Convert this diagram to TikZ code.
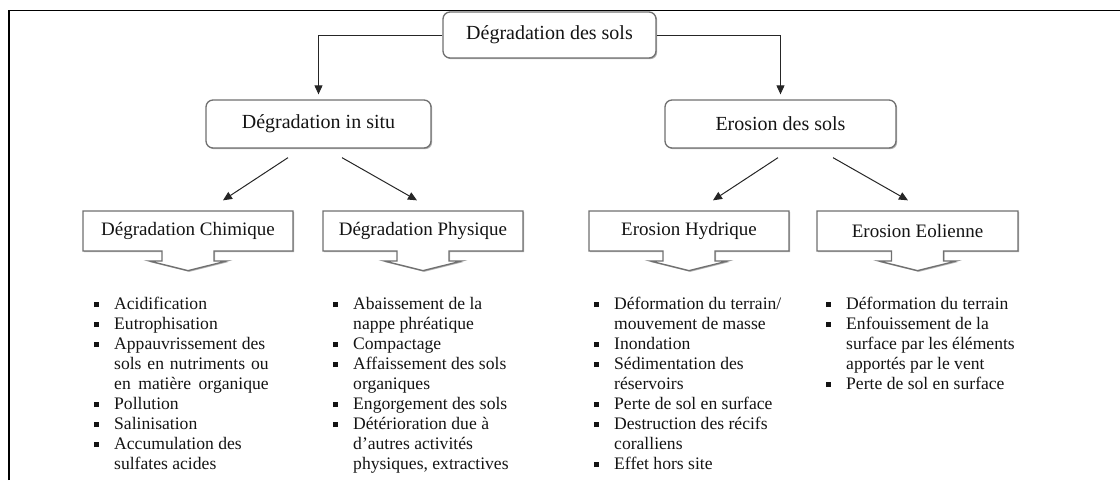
\documentclass[tikz,border=0pt]{standalone}
\usepackage{fontspec}
\setmainfont{Liberation Serif}
\usetikzlibrary{arrows.meta,shapes.arrows,shadows}
\definecolor{Ink}{HTML}{141414}
\definecolor{BoxGray}{HTML}{707070}
\definecolor{ArrowInk}{HTML}{262626}
\newcommand{\puce}{\raisebox{2pt}{\rule{5pt}{5pt}}}
\newenvironment{puces}{\begin{list}{\puce}{\setlength{\leftmargin}{20.5pt}\setlength{\labelwidth}{5pt}\setlength{\labelsep}{15.5pt}\setlength{\itemsep}{0pt}\setlength{\parsep}{0pt}\setlength{\topsep}{0pt}\setlength{\partopsep}{0pt}}}{\end{list}}
\tikzset{
  cadre/.style={draw=black, line width=1.5pt},
  ombre/.style={drop shadow={shadow xshift=1.2pt, shadow yshift=-1.2pt, fill=black, opacity=.3}},
  rootbox/.style={draw=BoxGray, line width=1.3pt, rounded corners=7pt, fill=white, ombre, align=center, inner sep=0pt, font=\fontsize{20}{24}\selectfont, text=Ink},
  leafbox/.style={arrow box, draw=BoxGray, line width=1.3pt, fill=white, ombre, inner sep=0pt, font=\fontsize{19}{23}\selectfont, text=Ink, arrow box arrows={south:19pt}, arrow box shaft width=52pt, arrow box head extend=13pt, arrow box head indent=0pt, arrow box tip angle=152},
  liste/.style={anchor=north west, inner sep=0pt, align=justify, font=\fontsize{17.6}{20}\selectfont, text=Ink},
  fleche/.style={-{Triangle[length=9pt, width=8pt]}, line width=1pt, draw=ArrowInk},
}

\begin{document}
\begin{tikzpicture}[x=1pt, y=-1pt]
    \useasboundingbox (0,0) rectangle (1120,480);
    \draw[cadre] (9,480) -- (9,10.5) -- (1120,10.5);
    \node[rootbox, minimum width=213pt, minimum height=46pt] (sols) at (549.5,35) {Dégradation des sols};
    \node[rootbox, minimum width=225pt, minimum height=48pt] (insitu) at (318.5,124) {Dégradation in situ};
    \node[rootbox, minimum width=231pt, minimum height=48pt] (erosion) at (780.5,124) {Erosion des sols};
    \node[leafbox, minimum width=210pt, minimum height=40pt] (chimique) at (188,231) {Dégradation Chimique};
    \node[leafbox, minimum width=200pt, minimum height=40pt] (physique) at (423,231) {Dégradation Physique};
    \node[leafbox, minimum width=200pt, minimum height=40pt] (hydrique) at (689,231) {Erosion Hydrique};
    \node[leafbox, minimum width=201pt, minimum height=40pt] (eolienne) at (917.5,231) {Erosion Eolienne};
    \draw[fleche, shorten >=5pt] (sols.west) -| (insitu.north);
    \draw[fleche, shorten >=5pt] (sols.east) -| (erosion.north);
    \draw[fleche] ([shift={(-30.5,9)}]insitu.south) -- ([shift={(35,-10)}]chimique.north);
    \draw[fleche] ([shift={(23.5,9)}]insitu.south) -- ([shift={(-6,-10)}]physique.north);
    \draw[fleche] ([shift={(-2.5,9)}]erosion.south) -- ([shift={(24,-10)}]hydrique.north);
    \draw[fleche] ([shift={(52.5,9)}]erosion.south) -- ([shift={(-9.5,-10)}]eolienne.north);
    \node[liste, text width=175pt] (listchim) at (93.5,289) {\begin{puces}
      \item Acidification
      \item Eutrophisation
      \item Appauvrissement des\\\makebox[\linewidth][s]{sols en nutriments ou}\\\makebox[\linewidth][s]{en matière organique}
      \item Pollution
      \item Salinisation
      \item Accumulation des\\sulfates acides
    \end{puces}};
    \node[liste, text width=195pt] (listphys) at (332.5,289) {\begin{puces}
      \item Abaissement de la\\nappe phréatique
      \item Compactage
      \item Affaissement des sols\\organiques
      \item Engorgement des sols
      \item Détérioration due à\\d’autres activités\\physiques, extractives
    \end{puces}};
    \node[liste, text width=195pt] (listhyd) at (593.5,289) {\begin{puces}
      \item Déformation du terrain/\\mouvement de masse
      \item Inondation
      \item Sédimentation des\\réservoirs
      \item Perte de sol en surface
      \item Destruction des récifs\\coralliens
      \item Effet hors site
    \end{puces}};
    \node[liste, text width=205pt] (listeol) at (825.5,289) {\begin{puces}
      \item Déformation du terrain
      \item Enfouissement de la\\surface par les éléments\\apportés par le vent
      \item Perte de sol en surface
    \end{puces}};
\end{tikzpicture}
\end{document}
